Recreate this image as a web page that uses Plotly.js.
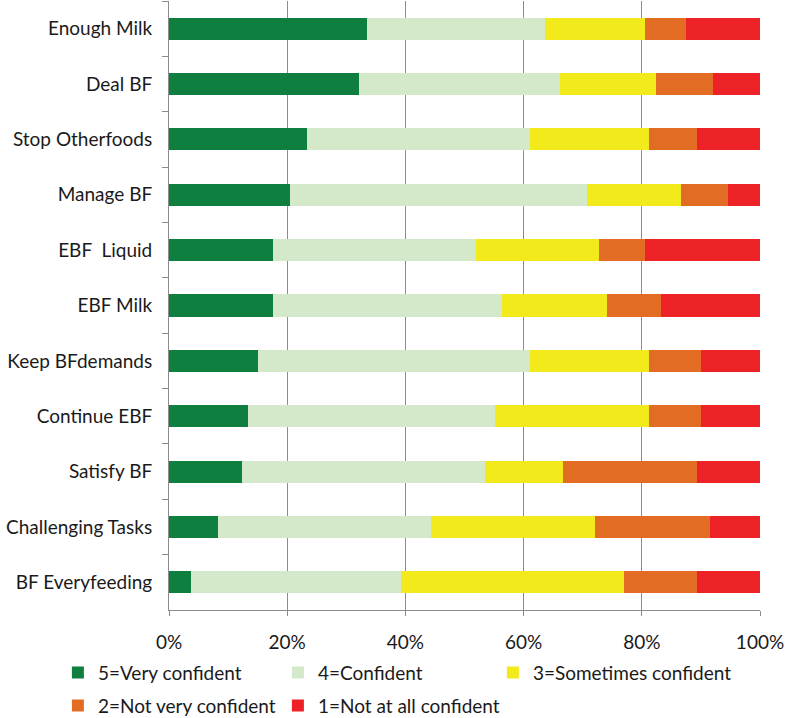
<!DOCTYPE html>
<html>
<head>
<meta charset="utf-8">
<script src="https://cdn.plot.ly/plotly-3.0.1.min.js"></script>
<style>html,body{margin:0;padding:0;background:#fff;}#chart{width:787px;height:718px;}</style>
</head>
<body>
<div id="chart"></div>
<script>
// Categories, top to bottom
const categories = ["Enough Milk", "Deal BF", "Stop Otherfoods", "Manage BF", "EBF\u00a0 Liquid", "EBF Milk", "Keep BFdemands", "Continue EBF", "Satisfy BF", "Challenging Tasks", "BF Everyfeeding"];

// Percent of respondents per confidence level
const veryConfident    = [33.5, 32.2, 23.3, 20.4, 17.6, 17.6, 15.0, 13.4, 12.4,  8.3,  3.8];
const confident        = [30.2, 33.9, 37.8, 50.3, 34.4, 38.8, 46.1, 41.8, 41.1, 36.1, 35.4];
const sometimes        = [16.9, 16.3, 20.1, 15.9, 20.8, 17.7, 20.1, 26.0, 13.1, 27.7, 37.8];
const notVery          = [ 6.8,  9.7,  8.2,  7.9,  7.8,  9.2,  8.8,  8.8, 22.7, 19.4, 12.3];
const notAtAll         = [12.6,  7.9, 10.6,  5.5, 19.4, 16.7, 10.0, 10.0, 10.7,  8.5, 10.7];

const seriesNames = ["5=Very confident", "4=Confident", "3=Sometimes confident", "2=Not very confident", "1=Not at all confident"];
const seriesColors = ["#0e7f3e", "#d3e9c9", "#f2ea1b", "#e36c24", "#ec2227"];
const seriesValues = [veryConfident, confident, sometimes, notVery, notAtAll];
const seriesLegend = ["legend", "legend", "legend", "legend2", "legend2"];
const seriesLegendWidth = [175, 170, null, 175, null];

const xTickVals = [0, 20, 40, 60, 80, 100];
const xTickText = ["0%", "20%", "40%", "60%", "80%", "100%"];

const FONT = "Lato, 'Liberation Sans', Arial, sans-serif";

const traces = seriesValues.map((vals, i) => {
  const t = {
    type: "bar",
    orientation: "h",
    name: seriesNames[i],
    x: vals,
    y: categories,
    marker: { color: seriesColors[i], line: { width: 0 } },
    legend: seriesLegend[i],
    hoverinfo: "name+x"
  };
  if (seriesLegendWidth[i]) t.legendwidth = seriesLegendWidth[i];
  return t;
});

const legendBase = {
  orientation: "h",
  xanchor: "left",
  yanchor: "middle",
  font: { family: FONT, size: 19, color: "#1a1a1a" },
  bgcolor: "rgba(0,0,0,0)",
  traceorder: "normal"
};

const layout = {
  width: 787,
  height: 718,
  margin: { l: 169, r: 27, t: 1, b: 108, autoexpand: false },
  paper_bgcolor: "#ffffff",
  plot_bgcolor: "#ffffff",
  barmode: "stack",
  barnorm: "percent",
  bargap: 0.6,
  font: { family: FONT, size: 19, color: "#1a1a1a" },
  showlegend: true,
  xaxis: {
    range: [0, 100],
    tickvals: xTickVals,
    ticktext: xTickText,
    showgrid: true,
    gridcolor: "#8c8c8c",
    gridwidth: 1,
    zeroline: false,
    showline: true,
    linecolor: "#8c8c8c",
    linewidth: 1,
    ticks: "outside",
    ticklen: 5,
    tickcolor: "#8c8c8c",
    ticklabelstandoff: 10,
    tickfont: { family: FONT, size: 19, color: "#1a1a1a" },
    automargin: false,
    fixedrange: true
  },
  yaxis: {
    type: "category",
    categoryorder: "array",
    categoryarray: categories,
    autorange: "reversed",
    showgrid: false,
    zeroline: false,
    showline: true,
    linecolor: "#8c8c8c",
    linewidth: 1,
    ticks: "outside",
    tickson: "boundaries",
    ticklen: 6,
    tickcolor: "#8c8c8c",
    ticklabelstandoff: 12,
    tickfont: { family: FONT, size: 19, color: "#1a1a1a" },
    automargin: false,
    fixedrange: true
  },
  legend: Object.assign({}, legendBase, { x: -0.188, y: -0.103 }),
  legend2: Object.assign({}, legendBase, { x: -0.188, y: -0.157 })
};

Plotly.newPlot("chart", traces, layout, { displayModeBar: false, staticPlot: true });
</script>
</body>
</html>
